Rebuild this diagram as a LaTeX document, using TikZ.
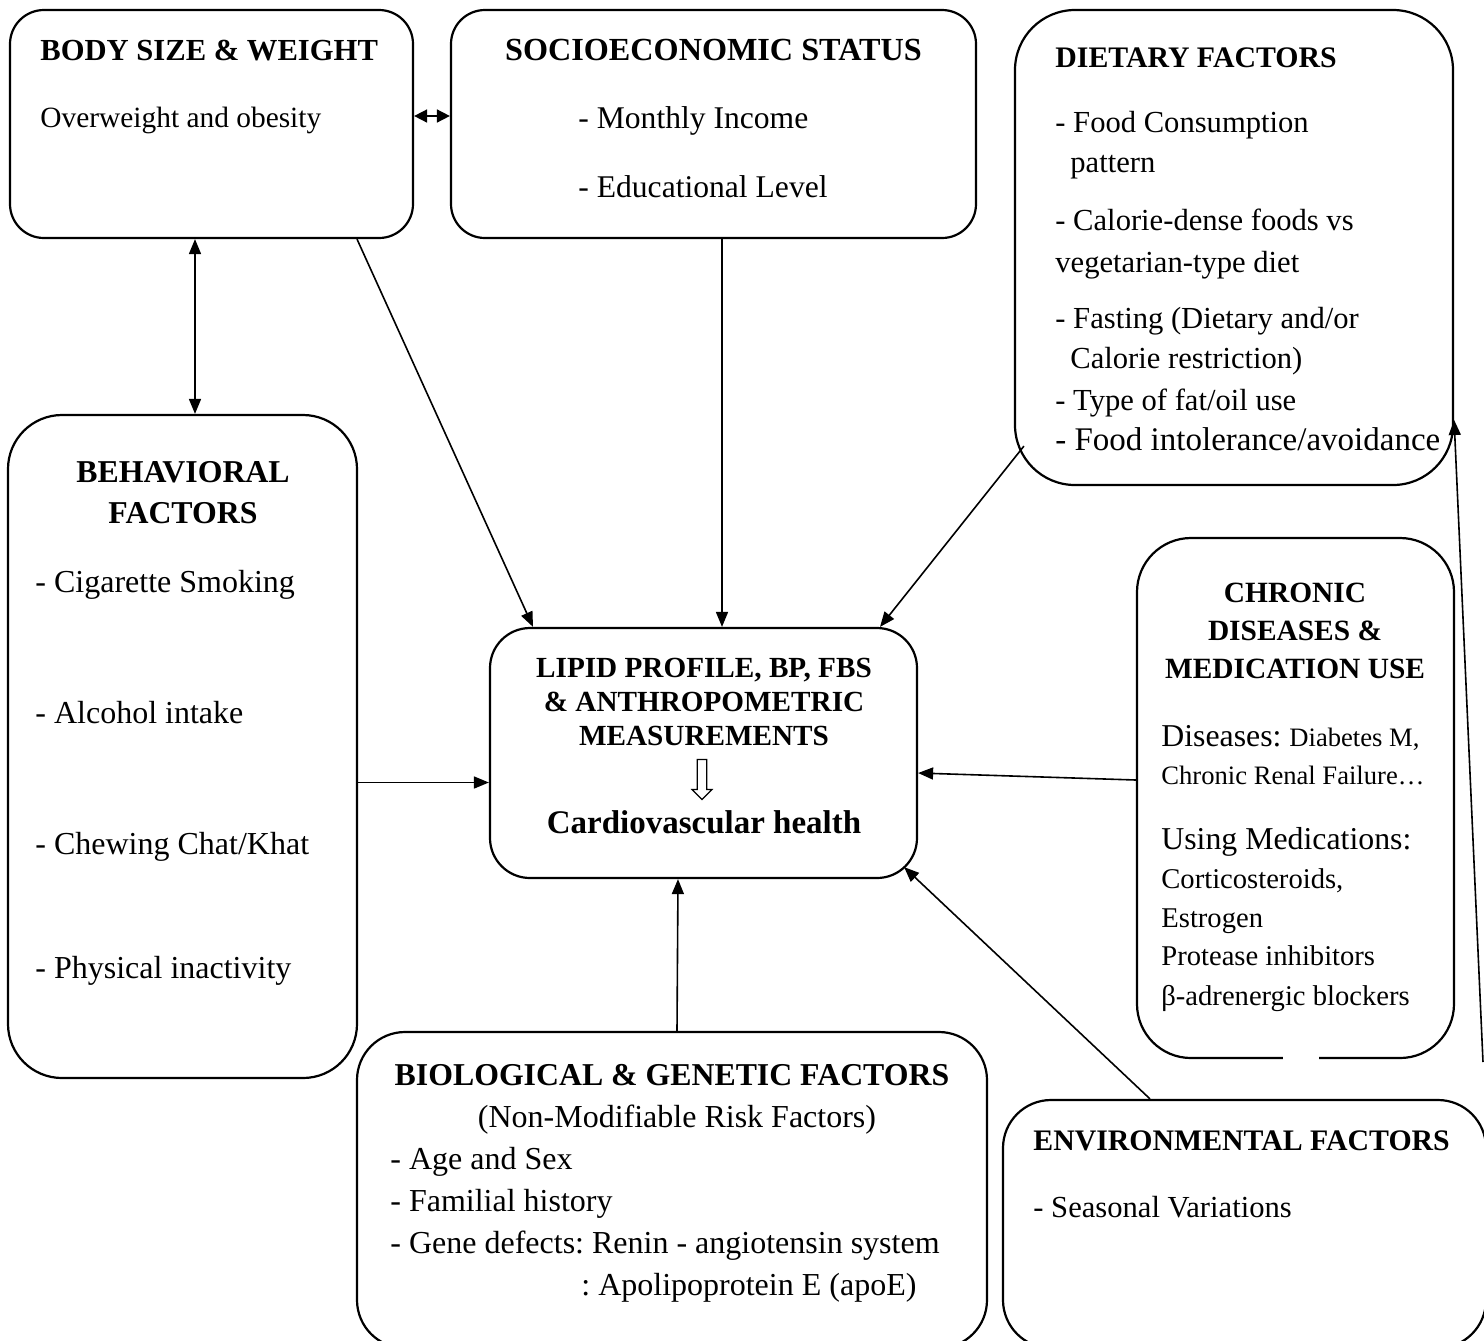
\documentclass[tikz,border=0pt]{standalone}
\usepackage{fontspec}
\setmainfont{Liberation Serif}
\usetikzlibrary{arrows.meta,shapes.arrows}
\frenchspacing
\newcommand{\fsz}[1]{\fontsize{#1}{#1}\selectfont}
\tikzset{
	box/.style={draw, line width=1.1pt, inner sep=0pt},
	txt/.style={anchor=base west, inner sep=0pt},
	ctxt/.style={anchor=base, inner sep=0pt},
	link/.style={line width=0.8pt, -{Triangle[length=7.5pt,width=6pt]}},
	both/.style={line width=0.8pt, {Triangle[length=7.5pt,width=6pt]}-{Triangle[length=7.5pt,width=6pt]}},
	twin/.style={line width=0.8pt, {Triangle[length=6.5pt,width=6.5pt]}-{Triangle[length=6.5pt,width=6.5pt]}},
}
\begin{document}
\begin{tikzpicture}[x=0.5pt,y=-0.5pt]
	\useasboundingbox (0,0) rectangle (1484,1340);

	% boxes
	\node[box, minimum width=201.5pt, minimum height=114pt, rounded corners=17pt] (body) at (211.5,124) {};
	\node[box, minimum width=262.5pt, minimum height=114pt, rounded corners=17pt] (socio) at (713.5,124) {};
	\node[box, minimum width=219pt, minimum height=237.5pt, rounded corners=30pt] (diet) at (1234,247.5) {};
	\node[box, minimum width=174.5pt, minimum height=331.5pt, rounded corners=27pt] (behav) at (182.5,746.5) {};
	\node[box, minimum width=213.5pt, minimum height=125pt, rounded corners=20pt] (centre) at (703.5,753) {};
	\node[box, minimum width=158.5pt, minimum height=260pt, rounded corners=27pt] (chronic) at (1295.5,798) {};
	\node[box, minimum width=315pt, minimum height=158pt, rounded corners=24pt] (bio) at (672,1190) {};
	\node[box, minimum width=241.5pt, minimum height=124pt, rounded corners=24pt] (env) at (1244.5,1224) {};
	\fill[white] (1283,1050) rectangle (1319,1066);

	% body size
	\node[txt, font=\fsz{15.3}\bfseries] (bodyhd) at (40,60) {BODY SIZE \& WEIGHT};
	\node[txt, font=\fsz{14.7}] (bodytx) at (40,127) {Overweight and obesity};

	% socioeconomic
	\node[ctxt, font=\fsz{16.1}\bfseries] (sochd) at (713.5,60) {SOCIOECONOMIC STATUS};
	\node[txt, font=\fsz{15.8}] (soc1) at (578,128) {- Monthly Income};
	\node[txt, font=\fsz{15.8}] (soc2) at (578,197) {- Educational Level};

	% dietary
	\node[txt, font=\fsz{14.9}\bfseries] (diethd) at (1055,67) {DIETARY FACTORS};
	\foreach \x/\y/\t [count=\i] in {1055/132/{- Food Consumption}, 1070/172/{pattern},
		1055/230/{- Calorie-dense foods vs}, 1055/272/{vegetarian-type diet},
		1055/328/{- Fasting (Dietary and/or}, 1070/368/{Calorie restriction)},
		1055/410/{- Type of fat/oil use}}
		\node[txt, font=\fsz{15.3}] (diet\i) at (\x,\y) {\t};
	\node[txt, font=\fsz{16.5}] (diet8) at (1055,450) {- Food intolerance/avoidance};

	% behavioral
	\node[ctxt, font=\fsz{15.9}\bfseries] (behavhd) at (183,482) {BEHAVIORAL};
	\node[ctxt, font=\fsz{15.9}\bfseries] (behavhd2) at (183,523) {FACTORS};
	\foreach \y/\t [count=\i] in {592/{- Cigarette Smoking}, 723/{- Alcohol intake},
		854/{- Chewing Chat/Khat}, 978/{- Physical inactivity}}
		\node[txt, font=\fsz{16}] (behav\i) at (35,\y) {\t};

	% centre
	\node[ctxt, font=\fsz{14.6}\bfseries] (lip1) at (704,677) {LIPID PROFILE, BP, FBS};
	\node[ctxt, font=\fsz{14.6}\bfseries] (lip2) at (704,711) {\& ANTHROPOMETRIC};
	\node[ctxt, font=\fsz{14.6}\bfseries] (lip3) at (704,745) {MEASUREMENTS};
	\node[draw, single arrow, shape border rotate=270, minimum height=20pt, minimum width=10pt,
		single arrow head extend=2.5pt, inner sep=2pt, line width=0.6pt] (down) at (702,777) {};
	\node[ctxt, font=\fsz{16.5}\bfseries] (cvh) at (704,833) {Cardiovascular health};

	% chronic diseases
	\node[ctxt, font=\fsz{14.7}\bfseries] (chr1) at (1295,602) {CHRONIC};
	\node[ctxt, font=\fsz{14.7}\bfseries] (chr2) at (1295,640) {DISEASES \&};
	\node[ctxt, font=\fsz{14.7}\bfseries] (chr3) at (1295,678) {MEDICATION USE};
	\node[txt, font=\fsz{15.9}] (dis1) at (1161,746) {Diseases: {\fsz{13.3}Diabetes M,}};
	\node[txt, font=\fsz{13.3}] (dis2) at (1161,784) {Chronic Renal Failure…};
	\node[txt, font=\fsz{15.9}] (med0) at (1161,849) {Using Medications:};
	\foreach \y/\t [count=\i] in {888/{Corticosteroids,}, 927/{Estrogen},
		965/{Protease inhibitors}, 1005/{β-adrenergic blockers}}
		\node[txt, font=\fsz{14.3}] (med\i) at (1161,\y) {\t};

	% biological
	\node[ctxt, font=\fsz{15.9}\bfseries] (biohd) at (672,1085) {BIOLOGICAL \& GENETIC FACTORS};
	\node[ctxt, font=\fsz{16}] (biosub) at (677,1127) {(Non-Modifiable Risk Factors)};
	\foreach \x/\y/\t [count=\i] in {390/1169/{- Age and Sex}, 390/1211/{- Familial history},
		390/1253/{- Gene defects: Renin - angiotensin system}, 581/1295/{: Apolipoprotein E (apoE)}}
		\node[txt, font=\fsz{16}] (bio\i) at (\x,\y) {\t};

	% environmental
	\node[txt, font=\fsz{14.9}\bfseries] (envhd) at (1033,1150) {ENVIRONMENTAL FACTORS};
	\node[txt, font=\fsz{15.3}] (env1) at (1033,1217) {- Seasonal Variations};

	% connectors
	\draw[twin] ([yshift=4pt]body.east) -- ([yshift=4pt]socio.west);
	\draw[both] ([xshift=-8.25pt]body.south) -- ([xshift=-8.25pt]body.south |- behav.north);
	\draw[link] ([xshift=72.75pt]body.south) -- ([xshift=-85.25pt]centre.north);
	\draw[link] ([xshift=4.25pt]socio.south) -- ([xshift=4.25pt]socio.south |- centre.north);
	\draw[link] ([xshift=5pt,yshift=20pt]diet.south west) -- ([xshift=88.25pt]centre.north);
	\draw[link] ([yshift=-18pt]behav.east) -- ([yshift=-18pt]behav.east -| centre.west);
	\draw[link] ([yshift=9pt]chronic.west) -- ([yshift=-10pt]centre.east);
	\draw[link] ([xshift=2.5pt]bio.north) -- ([xshift=-12.75pt]centre.south);
	\draw[link] ([xshift=-47.25pt]env.north) -- ([xshift=-7pt,yshift=6pt]centre.south east);
	\coordinate (tail) at (1483,1062);
	\draw[link] (tail) -- ([yshift=-86.25pt]diet.east);
\end{tikzpicture}
\end{document}
